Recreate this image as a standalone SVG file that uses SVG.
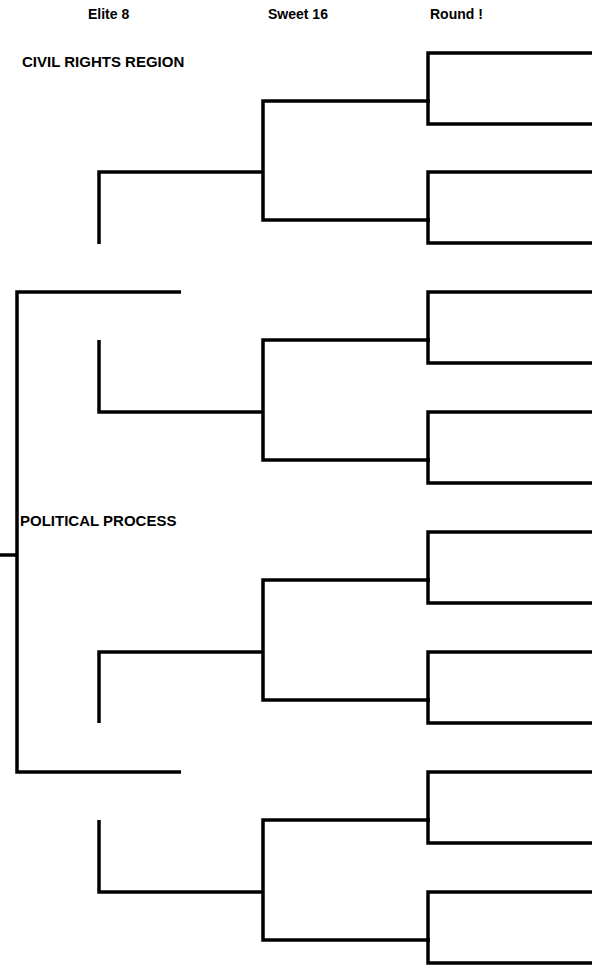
<svg xmlns="http://www.w3.org/2000/svg" width="604" height="968" viewBox="0 0 604 968">
<style>
.ln{fill:none;stroke:#000;stroke-width:3.5;stroke-linejoin:miter;stroke-linecap:butt}
.t{font-family:"Liberation Sans",Arial,sans-serif;font-weight:bold;font-size:14px;fill:#000}
.r{font-size:15px}
</style>
<rect width="604" height="968" fill="#fff"/>
<g id="headers">
<text class="t" x="88" y="19">Elite 8</text>
<text class="t" x="268" y="19">Sweet 16</text>
<text class="t" x="430" y="19">Round !</text>
</g>
<g id="region-civil-rights"><text class="t r" x="22" y="67">CIVIL RIGHTS REGION</text></g>
<g id="region-political-process"><text class="t r" x="20" y="526">POLITICAL PROCESS</text></g>
<g id="round1">
<path class="ln" d="M592,53 H428 V124 H592"/>
<path class="ln" d="M592,172 H428 V243 H592"/>
<path class="ln" d="M592,292 H428 V363 H592"/>
<path class="ln" d="M592,412 H428 V483 H592"/>
<path class="ln" d="M592,532 H428 V603 H592"/>
<path class="ln" d="M592,652 H428 V723 H592"/>
<path class="ln" d="M592,772 H428 V843 H592"/>
<path class="ln" d="M592,892 H428 V963 H592"/>
</g>
<g id="sweet16">
<path class="ln" d="M430,101 H263 V220 H430"/>
<path class="ln" d="M430,340 H263 V460 H430"/>
<path class="ln" d="M430,580 H263 V700 H430"/>
<path class="ln" d="M430,820 H263 V940 H430"/>
</g>
<g id="elite8">
<path class="ln" d="M263,172 H99 V244"/>
<path class="ln" d="M99,340 V412 H263"/>
<path class="ln" d="M263,652 H99 V723"/>
<path class="ln" d="M99,820 V892 H263"/>
</g>
<g id="final">
<path class="ln" d="M181,292 H17 V772 H181"/>
<path class="ln" d="M0,555 H17"/>
</g>
</svg>
